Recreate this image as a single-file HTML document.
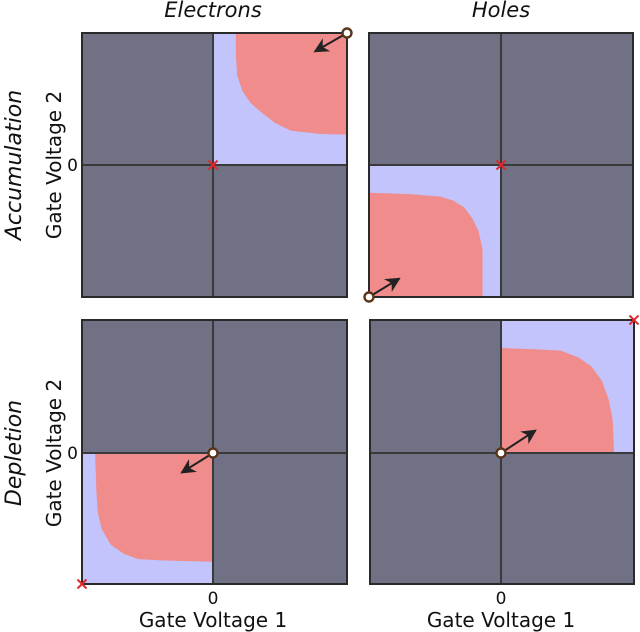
<!DOCTYPE html>
<html><head><meta charset="utf-8"><style>
body{margin:0;background:#fff;width:640px;height:632px;overflow:hidden}
svg{display:block}
text{font-family:"DejaVu Sans","Liberation Sans",sans-serif;fill:#111}
</style></head><body>
<svg id="fig" width="640" height="632">
<text x="213" y="17" font-size="21" font-style="italic" text-anchor="middle" fill="#222">Electrons</text>
<text x="501" y="17" font-size="21" font-style="italic" text-anchor="middle" fill="#222">Holes</text>
<text transform="translate(21,165) rotate(-90)" font-size="22" font-style="italic" text-anchor="middle" fill="#222">Accumulation</text>
<text transform="translate(21,453) rotate(-90)" font-size="22" font-style="italic" text-anchor="middle" fill="#222">Depletion</text>
<text transform="translate(61,165) rotate(-90)" font-size="20" text-anchor="middle">Gate Voltage 2</text>
<text transform="translate(61,453) rotate(-90)" font-size="20" text-anchor="middle">Gate Voltage 2</text>
<text x="78" y="171" font-size="17" text-anchor="end" fill="#333">0</text>
<text x="78" y="459" font-size="17" text-anchor="end" fill="#333">0</text>
<text x="213" y="604" font-size="17" text-anchor="middle" fill="#333">0</text>
<text x="501" y="604" font-size="17" text-anchor="middle" fill="#333">0</text>
<text x="213" y="627" font-size="20" text-anchor="middle">Gate Voltage 1</text>
<text x="501" y="627" font-size="20" text-anchor="middle">Gate Voltage 1</text>
</svg>
<script>
// panels: [left, top, right, bottom, centerX, centerY]
const panelNames = ['electrons-accumulation','holes-accumulation','electrons-depletion','holes-depletion'];
const panelBoxes = [[82,33,347,297,213,165],[369,33,633,297,501,165],[82,320,347,584,213,453],[370,320,634,584,501,453]];
// quadrant direction (sx, sy) of the lavender region from center
const quadDirs = [[1,-1],[-1,1],[-1,1],[1,-1]];
// red region boundary in normalized quadrant coords (u outward in x, v outward in y)
const redCurves = [
 [[0.17,1],[0.17,0.85],[0.18,0.68],[0.22,0.56],[0.28,0.47],[0.36,0.40],[0.46,0.32],[0.58,0.26],[0.8,0.235],[1,0.23]],
 [[1,0.21],[0.7,0.22],[0.46,0.24],[0.36,0.27],[0.28,0.32],[0.22,0.40],[0.17,0.5],[0.14,0.64],[0.14,1]],
 [[0,0.83],[0.4,0.82],[0.57,0.81],[0.68,0.77],[0.78,0.7],[0.85,0.58],[0.88,0.45],[0.89,0.3],[0.9,0]],
 [[0,0.79],[0.25,0.78],[0.45,0.77],[0.58,0.72],[0.68,0.65],[0.76,0.54],[0.81,0.40],[0.84,0.25],[0.85,0]]
];
const redFull = [true,true,false,false]; // red region touches far corner (true) or origin corner (false)
// marker positions in normalized coords of quadrant: circle, arrow tip, cross
const circlePts = [[1,1],[1,1],[0,0],[0,0]];
const arrowTips = [[0.76,0.86],[0.77,0.86],[0.24,0.15],[0.26,0.17]];
const crossPts = [[0,0],[0,0],[1,1],[1,1]];
const NS='http://www.w3.org/2000/svg';
const svg=document.getElementById('fig');
function mk(tag,attrs){const e=document.createElementNS(NS,tag);for(const k in attrs)e.setAttribute(k,attrs[k]);svg.appendChild(e);return e;}
const defs=document.createElementNS(NS,'defs');
defs.innerHTML='<marker id="ah" viewBox="0 0 10 10" refX="9" refY="5" markerWidth="7.5" markerHeight="7.5" markerUnits="strokeWidth" orient="auto"><path d="M0,0L10,5L0,10L3,5z" fill="#222"/></marker>';
svg.appendChild(defs);
panelBoxes.forEach((b,i)=>{
 const [l,t,r,bt,cx,cy]=b;const [sx,sy]=quadDirs[i];
 const qx=sx>0?r:l, qy=sy>0?bt:t;
 const W=Math.abs(qx-cx), H=Math.abs(qy-cy);
 const P=(u,v)=>[cx+sx*u*W, cy+sy*v*H];
 let e=mk('rect',{x:l,y:t,width:r-l,height:bt-t,fill:'#717186'});
 
 
 e=mk('rect',{x:Math.min(cx,qx),y:Math.min(cy,qy),width:W,height:H,fill:'#c4c4fc'});
 
 
 const pts=redCurves[i].map(p=>P(p[0],p[1]));
 let d='M'+pts.map(p=>p.join(',')).join('L');
 const c=redFull[i]?P(1,1):P(0,0);
 d+='L'+c.join(',')+'Z';
 e=mk('path',{d:d,fill:'#f08c8c','stroke-linejoin':'round'});
 
 
 e=mk('line',{x1:cx,y1:t,x2:cx,y2:bt,stroke:'#3a3a3a','stroke-width':2});
 
 
 e=mk('line',{x1:l,y1:cy,x2:r,y2:cy,stroke:'#3a3a3a','stroke-width':2});
 
 
 e=mk('rect',{x:l,y:t,width:r-l,height:bt-t,fill:'none',stroke:'#2a2a2a','stroke-width':2});
 
 
 const cp=P(circlePts[i][0],circlePts[i][1]), ap=P(arrowTips[i][0],arrowTips[i][1]);
 e=mk('line',{x1:cp[0],y1:cp[1],x2:ap[0],y2:ap[1],stroke:'#222','stroke-width':2,'marker-end':'url(#ah)'});
 
 
 e=mk('circle',{cx:cp[0],cy:cp[1],r:4.5,fill:'#fff',stroke:'#5a3418','stroke-width':2.4});
 
 
 const xp=P(crossPts[i][0],crossPts[i][1]);
 e=mk('path',{d:`M${xp[0]-4.5},${xp[1]-4.5}L${xp[0]+4.5},${xp[1]+4.5}M${xp[0]-4.5},${xp[1]+4.5}L${xp[0]+4.5},${xp[1]-4.5}`,stroke:'#e0282a','stroke-width':2});
 
 
});
</script>
</body></html>
